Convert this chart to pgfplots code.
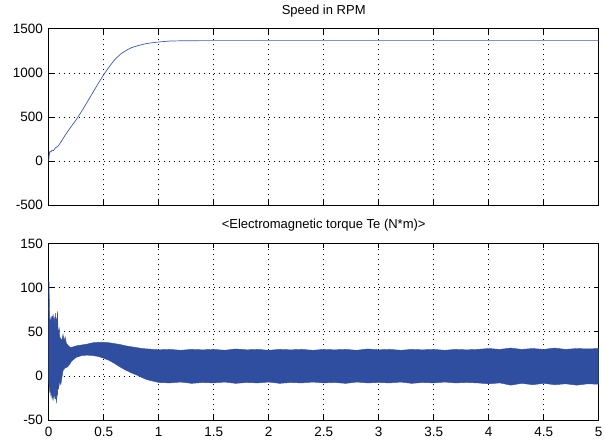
\documentclass[border=0pt]{standalone}
\usepackage{fontspec}
\setmainfont{Liberation Sans}
\usepackage{pgfplots}
\pgfplotsset{compat=1.18}
\definecolor{speedblue}{RGB}{60,90,180}
\definecolor{bandblue}{RGB}{48,78,160}
\pgfplotsset{
  scopestyle/.style={
    scale only axis, width=550pt, height=176.5pt,
    xmin=0, xmax=5,
    xtick={0,0.5,1,1.5,2,2.5,3,3.5,4,4.5,5},
    grid=major,
    grid style={black, line width=0.7pt, dash pattern=on 0.8pt off 4.2pt},
    axis line style={black, line width=0.8pt},
    every tick/.style={black, line width=0.8pt},
    tick align=inside, tick pos=both,
    major tick length=5pt,
    ticklabel style={font=\fontsize{13.5}{15}\selectfont, inner sep=0pt},
    yticklabel style={xshift=-5.7pt},
    xticklabel style={yshift=-6.7pt},
    title style={font=\fontsize{13}{15}\selectfont, at={(0.5,1)}, anchor=base, yshift=8.7pt, inner sep=0pt},
  }
}
\begin{document}
\begin{tikzpicture}
\path[use as bounding box] (0pt,0pt) rectangle (605pt,443pt);
\begin{axis}[scopestyle, at={(48.7pt,237.7pt)}, anchor=south west,
  ymin=-500, ymax=1500, ytick={-500,0,500,1000,1500},
  yticklabels={-500,0,500,1000,1500}, xticklabels={},
  title={Speed in RPM}]
\addplot[speedblue, line width=0.7pt, no markers] coordinates {
(0,0) (0.003,50) (0.008,95) (0.012,110) (0.02,105) (0.03,125) (0.045,120) (0.06,150) (0.08,165) (0.1,195)
(0.15,295) (0.2,385) (0.25,470) (0.3,565) (0.35,670) (0.4,775) (0.45,880) (0.5,980)
(0.55,1070) (0.6,1150) (0.65,1210) (0.7,1252) (0.75,1285) (0.8,1305) (0.85,1322) (0.9,1335)
(0.95,1343) (1.0,1350) (1.05,1356) (1.1,1361) (1.2,1364) (1.4,1366) (2,1366) (3,1366) (4,1366) (5,1366)
};
\end{axis}
\begin{axis}[scopestyle, at={(48.7pt,23pt)}, anchor=south west,
  ymin=-50, ymax=150, ytick={-50,0,50,100,150},
  yticklabels={-50,0,50,100,150},
  xticklabels={0,0.5,1,1.5,2,2.5,3,3.5,4,4.5,5},
  title={<Electromagnetic torque Te (N*m)>}]
\addplot[draw=bandblue, fill=bandblue, line width=0.4pt, no markers] coordinates {
(0,0) (0.0005,107) (0.004,106) (0.006,80) (0.01,64) (0.015,60) (0.02,66) (0.025,62) (0.03,68)
(0.035,60) (0.04,70) (0.045,62) (0.05,65) (0.055,58) (0.06,71) (0.065,60) (0.07,66) (0.075,56)
(0.08,73) (0.085,52) (0.09,48) (0.095,55) (0.1,44) (0.11,42) (0.12,40) (0.13,47) (0.14,40)
(0.15,44) (0.16,37) (0.18,34) (0.2,32) (0.25,34) (0.3,35) (0.35,36) (0.4,37.5) (0.45,38)
(0.5,38) (0.55,37.5) (0.6,36.5) (0.65,35.5) (0.7,34) (0.75,33) (0.8,32) (0.85,31) (0.9,30.5)
(0.95,30) (1.0,29.5) (1.1,30) (1.2,29) (1.3,30) (1.4,29.5) (1.5,30) (1.6,29) (1.7,30.5)
(1.8,29.5) (1.9,30) (2.0,29) (2.1,30) (2.2,29.5) (2.3,30) (2.4,29) (2.5,30) (2.6,29.5)
(2.7,30) (2.8,29) (2.9,30.5) (3.0,29.5) (3.1,30) (3.2,29) (3.3,30) (3.4,29.5) (3.5,30)
(3.6,29) (3.7,30) (3.8,29.5) (3.9,30) (4.0,31) (4.1,30) (4.2,31.5) (4.3,30) (4.4,31)
(4.5,30) (4.6,31.5) (4.7,30) (4.8,31) (4.9,30.5) (5.0,31)
(5.0,-9.5) (4.9,-9) (4.8,-10.5) (4.7,-9) (4.6,-10) (4.5,-8.5) (4.4,-10) (4.3,-8.5) (4.2,-10.5)
(4.1,-8) (4.0,-9) (3.9,-8) (3.8,-7.5) (3.7,-8) (3.6,-7) (3.5,-8) (3.4,-7.5) (3.3,-8.5) (3.2,-7)
(3.1,-8) (3.0,-7.5) (2.9,-8) (2.8,-7) (2.7,-8.5) (2.6,-7.5) (2.5,-8) (2.4,-7) (2.3,-8) (2.2,-7.5)
(2.1,-8.5) (2.0,-7) (1.9,-8) (1.8,-7.5) (1.7,-8.5) (1.6,-7) (1.5,-8) (1.4,-7.5) (1.3,-8.5)
(1.2,-7) (1.1,-8) (1.0,-7.5) (0.95,-6) (0.9,-4.5) (0.85,-2) (0.8,1) (0.75,3.5) (0.7,6.5)
(0.65,10) (0.6,14) (0.55,17.5) (0.5,20) (0.45,22) (0.4,23) (0.35,23.5) (0.3,23) (0.25,21)
(0.21,17) (0.19,13) (0.17,10) (0.15,9) (0.13,6) (0.12,-2) (0.11,-10) (0.1,-6) (0.09,-14)
(0.085,-10) (0.08,-22) (0.075,-18) (0.07,-31) (0.065,-20) (0.06,-26) (0.055,-16) (0.05,-24)
(0.045,-19) (0.04,-28) (0.035,-20) (0.03,-25) (0.025,-18) (0.02,-22) (0.015,-15) (0.01,-18)
(0.005,-12) (0.001,-8) (0,0)
};
\end{axis}
\end{tikzpicture}
\end{document}
